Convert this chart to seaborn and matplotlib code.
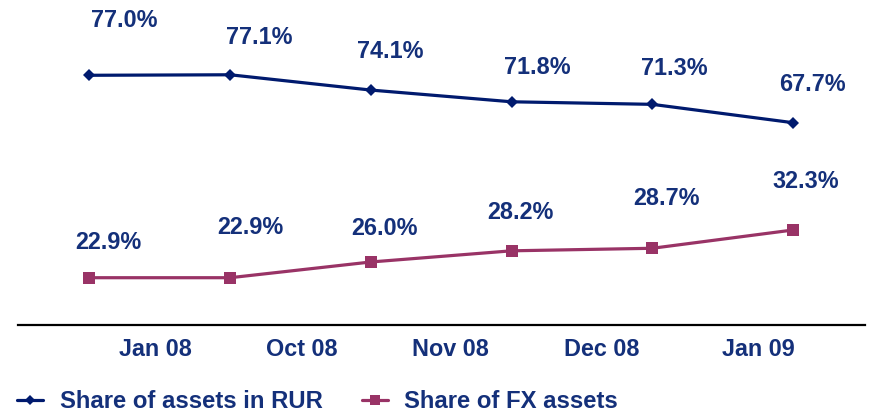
import matplotlib
matplotlib.use("Agg")
import matplotlib.pyplot as plt
from matplotlib.lines import Line2D
import seaborn as sns
import pandas as pd

# ---- data ----
points = [0, 1, 2, 3, 4, 5]
rur_share = [77.0, 77.1, 74.1, 71.8, 71.3, 67.7]
fx_share = [22.9, 22.9, 26.0, 28.2, 28.7, 32.3]
tick_labels = ["Jan 08", "Oct 08", "Nov 08", "Dec 08", "Jan 09"]
series_names = ["Share of assets in RUR", "Share of FX assets"]

# ---- layout / style (not data) ----
tick_positions = [0.466, 1.51, 2.569, 3.643, 4.751]
rur_label_offsets = [(35, 55), (29, 37), (19, 39), (26, 34), (22, 36), (19, 38)]
fx_label_offsets = [(19, 35), (20, 50), (13.5, 33), (9, 38), (14, 50), (13, 49)]

NAVY_LINE = "#001A6E"
NAVY_TEXT = "#14307A"
PLUM = "#993366"
FS = 16.8

sns.set_theme(style="white")
plt.rcParams["font.family"] = ["Liberation Sans", "DejaVu Sans"]
plt.rcParams["font.weight"] = "bold"

df = pd.DataFrame({"x": points, "rur": rur_share, "fx": fx_share})

fig = plt.figure(figsize=(8.7, 4.13), dpi=100)
ax = fig.add_axes([18 / 870, 1 - 325 / 413, (865 - 18) / 870, 325 / 413])
ax2 = ax.twinx()

sns.lineplot(data=df, x="x", y="rur", ax=ax, color=NAVY_LINE, linewidth=2.3,
             marker="D", markersize=6, markeredgewidth=0, legend=False)
sns.lineplot(data=df, x="x", y="fx", ax=ax2, color=PLUM, linewidth=2.3,
             marker="s", markersize=8.5, markeredgewidth=0, legend=False)

ax.set_xlim(-0.508, 5.512)
ax.set_ylim(28.01, 91.77)
ax2.set_ylim(13.58, 77.63)

for xv, yv, (dx, dy) in zip(points, rur_share, rur_label_offsets):
    ax.annotate(f"{yv:.1f}%", (xv, yv), xytext=(dx, dy), textcoords="offset pixels",
                ha="center", va="center", fontsize=FS, fontweight="bold", color=NAVY_TEXT)
for xv, yv, (dx, dy) in zip(points, fx_share, fx_label_offsets):
    ax2.annotate(f"{yv:.1f}%", (xv, yv), xytext=(dx, dy), textcoords="offset pixels",
                 ha="center", va="center", fontsize=FS, fontweight="bold", color=NAVY_TEXT)

for a in (ax, ax2):
    for s in ("left", "right", "top"):
        a.spines[s].set_visible(False)
    a.set_ylabel("")
    a.set_xlabel("")
    a.set_yticks([])
    a.grid(False)
ax2.spines["bottom"].set_visible(False)
ax.spines["bottom"].set_color("black")
ax.spines["bottom"].set_linewidth(1.6)

ax.set_xticks(tick_positions)
ax.set_xticklabels(tick_labels, fontsize=FS, fontweight="bold", color=NAVY_TEXT)
ax.tick_params(axis="x", length=0, pad=9, labelbottom=True)

handles = [
    Line2D([], [], color=NAVY_LINE, linewidth=2.3, marker="D", markersize=5, markeredgewidth=0),
    Line2D([], [], color=PLUM, linewidth=2.3, marker="s", markersize=7, markeredgewidth=0),
]
leg = fig.legend(handles, series_names, loc="center left", bbox_to_anchor=(17 / 870, 1 - 402 / 413),
                 ncol=2, frameon=False, fontsize=17.2, handlelength=1.1, handletextpad=0.68,
                 columnspacing=1.65, borderaxespad=0, borderpad=0)
for t in leg.get_texts():
    t.set_color(NAVY_TEXT)
    t.set_fontweight("bold")

fig.savefig("out.png", dpi=100)
